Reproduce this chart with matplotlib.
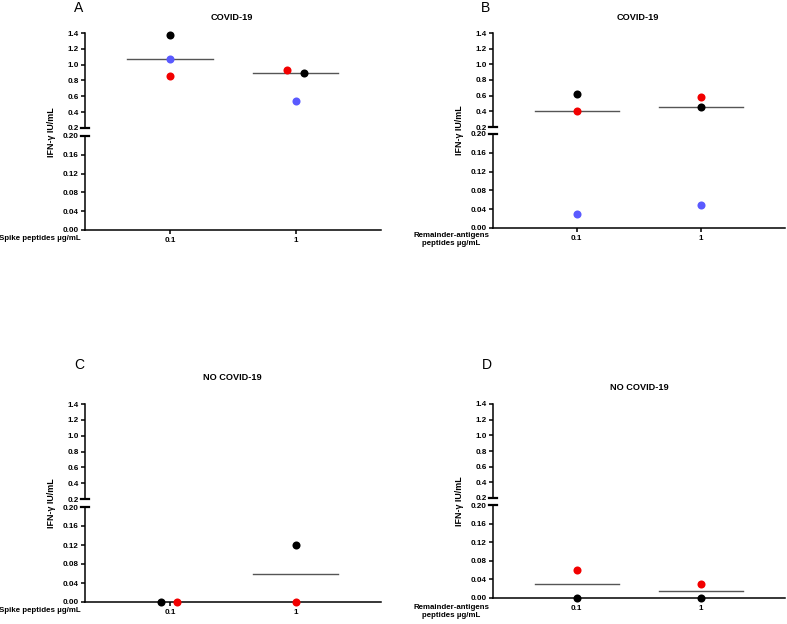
import matplotlib
matplotlib.use("Agg")
import matplotlib.pyplot as plt
import numpy as np

plt.rcParams['font.family'] = ['Liberation Sans', 'DejaVu Sans']

# ---- data ----
categories = ['0.1', '1']

a_black = [1.37, 0.89]
a_red = [0.86, 0.93]
a_blue = [1.07, 0.54]

b_black = [0.62, 0.46]
b_red = [0.40, 0.58]
b_blue = [0.03, 0.05]

c_black = [0.0, 0.12]
c_red = [0.0, 0.0]

d_black = [0.0, 0.0]
d_red = [0.06, 0.03]

panel_letters = ['A', 'B', 'C', 'D']
panel_titles = ['COVID-19', 'COVID-19', 'NO COVID-19', 'NO COVID-19']
x_labels = ['Spike peptides µg/mL', 'Remainder-antigens\npeptides µg/mL',
            'Spike peptides µg/mL', 'Remainder-antigens\npeptides µg/mL']
y_label = 'IFN-γ IU/mL'
upper_ticks = [0.2, 0.4, 0.6, 0.8, 1.0, 1.2, 1.4]
lower_ticks = [0.00, 0.04, 0.08, 0.12, 0.16, 0.20]

BLACK = '#000000'
RED = '#f20000'
BLUE = '#5a5aff'
MEDIAN = '#555555'

panels = [
    [(a_black, BLACK), (a_red, RED), (a_blue, BLUE)],
    [(b_black, BLACK), (b_red, RED), (b_blue, BLUE)],
    [(c_black, BLACK), (c_red, RED)],
    [(d_black, BLACK), (d_red, RED)],
]

# horizontal nudges for overlapping points (panel, series, category) -> dx
nudges = {(0, 0, 1): 0.064, (0, 1, 1): -0.064,
          (2, 0, 0): -0.07, (2, 1, 0): 0.06}

W, H = 787, 624
fig = plt.figure(figsize=(W / 100, H / 100), dpi=100)


def px_box(x0, x1, ytop, ybot):
    return [x0 / W, 1 - ybot / H, (x1 - x0) / W, (ybot - ytop) / H]


# pixel layout: (axis left, axis right, upper top, upper bottom, lower top, lower bottom)
layout = [
    (85, 381, 33, 128, 136, 230),
    (493, 785, 33, 127, 134, 228),
    (85, 381, 404, 499, 507, 602),
    (493, 785, 404, 498, 505, 598),
]
letter_pos = [(79, 8), (486, 8), (79, 365), (487, 365)]
title_pos = [(232, 17), (638, 17), (232, 377), (639, 388)]
ylabel_x = [52, 459, 52, 460]
xlabel_dy = [8, 11.5, 8, 13.5]

tick_fs = 5.8
xlim = (-0.675, 1.68)

for i, series in enumerate(panels):
    x0, x1, ut, ub, lt, lb = layout[i]
    ax_up = fig.add_axes(px_box(x0, x1, ut, ub))
    ax_lo = fig.add_axes(px_box(x0, x1, lt, lb))
    xs = np.arange(len(categories))

    for ax in (ax_up, ax_lo):
        ax.set_xlim(*xlim)
        for s in ('top', 'right'):
            ax.spines[s].set_visible(False)
        ax.spines['left'].set_linewidth(1.1)
        ax.tick_params(axis='y', length=3, width=1.1, pad=1.5, labelsize=tick_fs)
        ax.patch.set_alpha(0)

    ax_up.set_ylim(0.2, 1.4)
    ax_up.set_yticks(upper_ticks)
    ax_up.set_yticklabels([f'{t:.1f}' for t in upper_ticks], fontweight='bold')
    ax_up.spines['bottom'].set_visible(False)
    ax_up.set_xticks([])

    ax_lo.set_ylim(0, 0.2)
    ax_lo.set_yticks(lower_ticks)
    ax_lo.set_yticklabels([f'{t:.2f}' for t in lower_ticks], fontweight='bold')
    ax_lo.spines['bottom'].set_linewidth(1.1)
    ax_lo.set_xticks(xs)
    ax_lo.set_xticklabels(categories, fontweight='bold')
    ax_lo.tick_params(axis='x', length=3, width=1.1, pad=2, labelsize=tick_fs)

    # break marks on the y axis
    ax_up.plot([-0.012, 0.012], [0, 0], transform=ax_up.transAxes,
               color='black', lw=1.6, clip_on=False)
    ax_lo.plot([-0.012, 0.012], [1, 1], transform=ax_lo.transAxes,
               color='black', lw=1.6, clip_on=False)

    # median lines
    vals = np.array([s for s, _ in series])
    med = np.median(vals, axis=0)
    for k, m in enumerate(med):
        if m == 0:
            continue  # hidden under the x axis
        ax = ax_up if m >= 0.2 else ax_lo
        ax.plot([xs[k] - 0.34, xs[k] + 0.34], [m, m], color=MEDIAN,
                lw=1.0, zorder=2, clip_on=False)

    # points
    for j, (s, col) in enumerate(series):
        for k, v in enumerate(s):
            ax = ax_up if v >= 0.2 else ax_lo
            ax.plot(xs[k] + nudges.get((i, j, k), 0), v, 'o', color=col,
                    ms=5.8, mec='none', zorder=5, clip_on=False)

    # texts
    lx, ly = letter_pos[i]
    fig.text(lx / W, 1 - ly / H, panel_letters[i], fontsize=10,
             ha='center', va='center')
    tx, ty = title_pos[i]
    fig.text(tx / W, 1 - ty / H, panel_titles[i], fontsize=6.6,
             fontweight='bold', ha='center', va='center')
    yc = (ub + lt) / 2
    fig.text(ylabel_x[i] / W, 1 - yc / H, y_label, fontsize=6.4,
             fontweight='bold', rotation=90, ha='center', va='center')
    xl_y = lb + xlabel_dy[i]
    fig.text((x0 - 4) / W, 1 - xl_y / H, x_labels[i], fontsize=5.7,
             fontweight='bold', ha='right', va='center',
             multialignment='center', linespacing=1.25)

fig.savefig('out.png', dpi=100)
